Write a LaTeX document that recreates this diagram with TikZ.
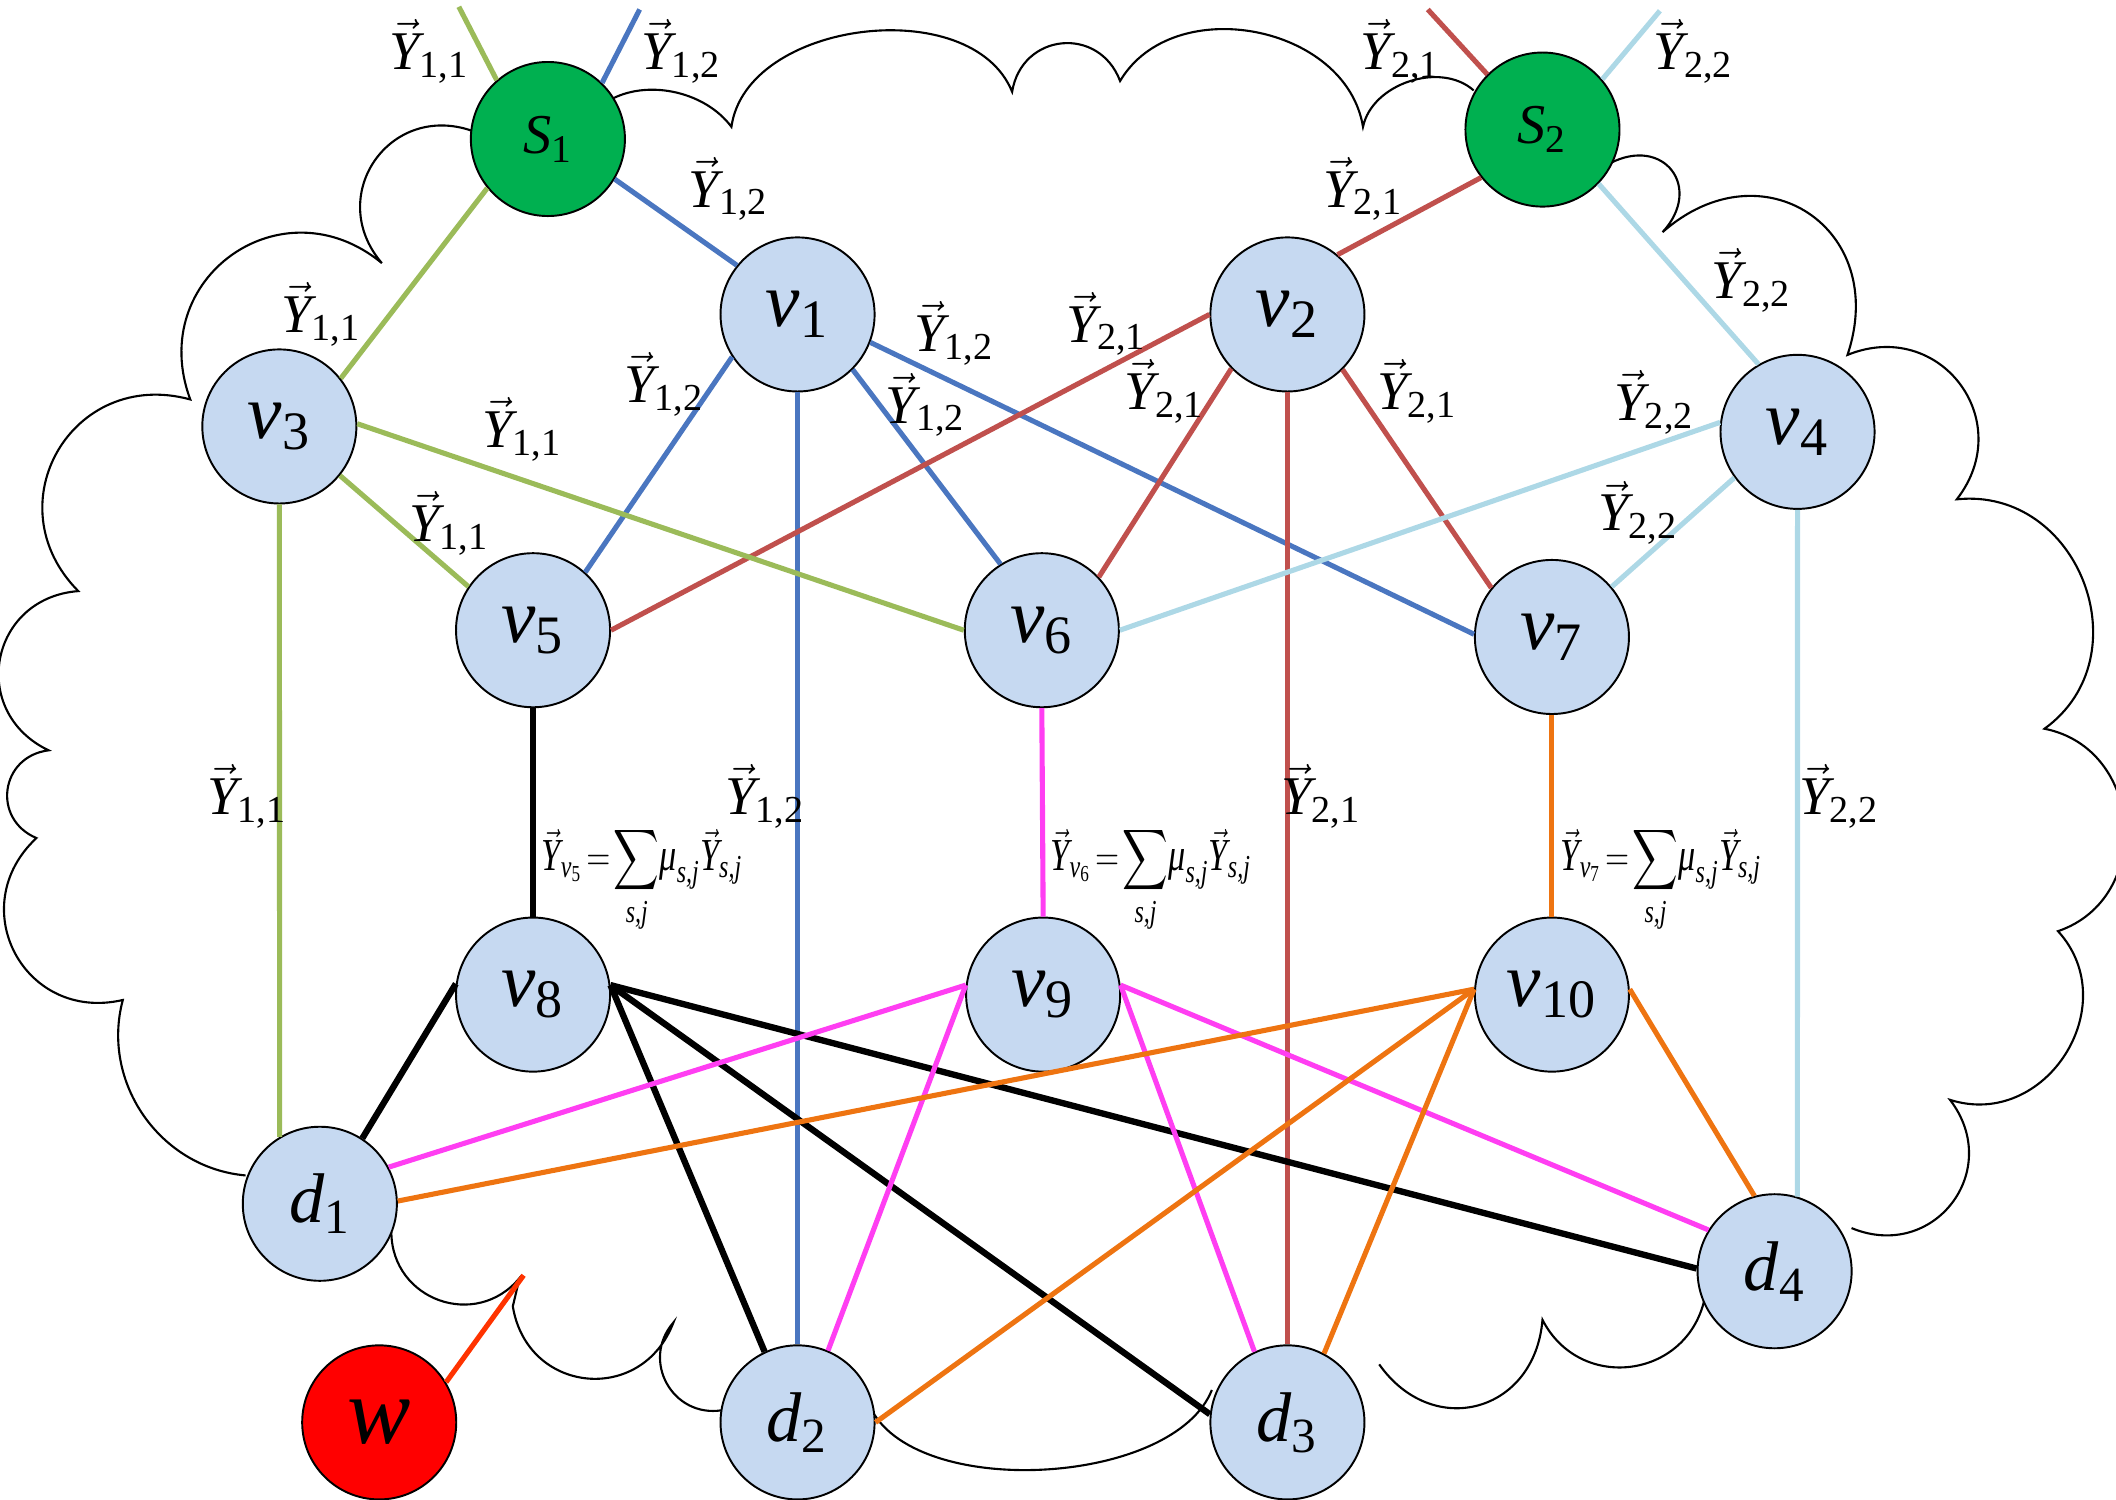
\documentclass[tikz,border=0pt]{standalone}
\usepackage{amsmath}
\usepackage{fontspec}
\setmainfont{Liberation Serif}
\usetikzlibrary{calc}
\definecolor{nfill}{HTML}{C6D9F1}
\definecolor{sgreen}{HTML}{00B050}
\definecolor{wred}{HTML}{FF0000}
\definecolor{cgreen}{HTML}{9BBB59}
\definecolor{cblue}{HTML}{4A76C0}
\definecolor{cred}{HTML}{C0504D}
\definecolor{clblue}{HTML}{ADD8E6}
\definecolor{cmag}{HTML}{FF3EF2}
\definecolor{corange}{HTML}{EE7411}
\definecolor{cwline}{HTML}{FF3300}
\newcommand\lb[4]{.. controls ($(#1)!#3!#4:(#2)$) and ($(#2)!#3!-#4:(#1)$) .. (#2)}
\newcommand\Yl[1]{$\vec{\textit{Y}}_{\text{#1}}$}
\newcommand\Nd[2]{$\textit{#1}_{\text{#2}}$}
\newcommand\Fm[1]{\scalebox{0.75}[1]{$\vec{\textit{Y}}_{\textit{v}_{\text{#1}}}\!=\!\displaystyle\sum_{\textit{s,j}}\!\textit{μ}_{\textit{s,j}}\vec{\textit{Y}}_{\textit{s,j}}$}}
\begin{document}
\begin{tikzpicture}[x=0.013495cm,y=-0.013495cm,
  base/.style={circle,draw=black,line width=0.55pt,minimum size=1.54cm,inner sep=0pt},
  vn/.style={base,fill=nfill,font=\fontsize{22}{24}\selectfont},
  dn/.style={base,fill=nfill,font=\fontsize{20}{24}\selectfont},
  sn/.style={base,fill=sgreen,font=\fontsize{16}{18}\selectfont},
  wn/.style={base,fill=wred,font=\fontsize{27}{30}\selectfont},
  lab/.style={inner sep=0pt,font=\fontsize{15.5}{18}\selectfont},
  frm/.style={inner sep=0pt,font=\fontsize{13}{15}\selectfont,anchor=west},
  ed/.style={line width=1.45pt},
  gE/.style={ed,draw=cgreen},
  bE/.style={ed,draw=cblue},
  rE/.style={ed,draw=cred},
  lE/.style={ed,draw=clblue},
  mE/.style={ed,draw=cmag},
  oE/.style={ed,draw=corange},
  kE/.style={line width=1.8pt,draw=black},
  cloud/.style={draw=black,line width=0.6pt}]
\useasboundingbox (0,0) rectangle (1568,1111.5);

% cloud outline
\draw[cloud] (454,73) \lb{454,73}{542,94}{0.35}{40}
  \lb{542,94}{750,68}{0.38}{75}
  \lb{750,68}{830,60}{0.55}{75}
  \lb{830,60}{1010,94}{0.42}{70}
  \lb{1010,94}{1092,67}{0.38}{60}
  (1193,121) \lb{1193,121}{1232,172}{0.7}{80}
  \lb{1232,172}{1369,263}{0.6}{75}
  \lb{1369,263}{1450,370}{0.55}{75}
  \lb{1450,370}{1515,540}{0.5}{75}
  \lb{1515,540}{1525,690}{0.5}{75}
  \lb{1525,690}{1445,815}{0.5}{75}
  \lb{1445,815}{1372,910}{0.55}{75}
  (1263,963) \lb{1263,963}{1143,978}{0.5}{70}
  \lb{1143,978}{1022,1011}{0.55}{70}
  (898,1030) \lb{898,1030}{646,1045}{0.3}{65}
  (535,1045) \lb{535,1045}{499,980}{0.5}{70}
  \lb{499,980}{380,968}{0.55}{75}
  -- (385,947) \lb{385,947}{290,913}{0.5}{70}
  (182,871) \lb{182,871}{91,741}{0.4}{50}
  \lb{91,741}{27,621}{0.55}{75}
  \lb{27,621}{36,556}{0.55}{75}
  \lb{36,556}{58,438}{0.55}{75}
  \lb{58,438}{141,296}{0.55}{75}
  \lb{141,296}{283,195}{0.55}{75}
  \lb{283,195}{350,97}{0.55}{75};

% nodes
\node[sn] (S1) at (406,103) {\Nd{S}{1}};
\node[sn] (S2) at (1143,96) {\Nd{S}{2}};
\node[vn] (v1) at (591,233) {\Nd{v}{1}};
\node[vn] (v2) at (954,233) {\Nd{v}{2}};
\node[vn] (v3) at (207,316) {\Nd{v}{3}};
\node[vn] (v4) at (1332,320) {\Nd{v}{4}};
\node[vn] (v5) at (395,467) {\Nd{v}{5}};
\node[vn] (v6) at (772,467) {\Nd{v}{6}};
\node[vn] (v7) at (1150,472) {\Nd{v}{7}};
\node[vn] (v8) at (395,737) {\Nd{v}{8}};
\node[vn] (v9) at (773,737) {\Nd{v}{9}};
\node[vn] (v10) at (1150,737) {\Nd{v}{10}};
\node[dn] (d1) at (237,892) {\Nd{d}{1}};
\node[dn] (d2) at (591,1054) {\Nd{d}{2}};
\node[dn] (d3) at (954,1054) {\Nd{d}{3}};
\node[dn] (d4) at (1315,942) {\Nd{d}{4}};
\node[wn] (w) at (281,1054) {\textit{w}};

% free ends of stubs
\coordinate (t1) at (340,5);
\coordinate (t2) at (474,7);
\coordinate (t3) at (1058,7);
\coordinate (t4) at (1230,8);
\coordinate (t5) at (388,945);

% edges
\draw[gE] (S1.131) -- (t1);
\draw[bE] (S1.46) -- (t2);
\draw[rE] (S2.135) -- (t3);
\draw[lE] (S2.40) -- (t4);
\draw[line width=1.45pt,draw=cwline] (w.31) -- (t5);

\draw[gE] (S1.219) -- (v3.38);
\draw[bE] (S1.-31) -- (v1.141);
\draw[rE] (S2.218) -- (v2.50);
\draw[lE] (S2.-44) -- (v4.120);

\draw[bE] (v1.213) -- (v5.48);
\draw[bE] (v1.-45) -- (v6.122);
\draw[bE] (v1.-21) -- (v7.178);
\draw[bE] (v1.south) -- (d2.north);

\draw[rE] (v2.180) -- (v5.0);
\draw[rE] (v2.224) -- (v6.43);
\draw[rE] (v2.-45) -- (v7.141);
\draw[rE] (v2.south) -- (d3.north);

\draw[gE] (v3.-39) -- (v5.146);
\draw[gE] (v3.2) -- (v6.180);
\draw[gE] (v3.south) -- (d1.121);

\draw[lE] (v4.173) -- (v6.0);
\draw[lE] (v4.216) -- (v7.40);
\draw[lE] (v4.south) -- (d4.73);

\draw[kE] (v5.south) -- (v8.north);
\draw[mE] (v6.south) -- (v9.north);
\draw[oE] (v7.south) -- (v10.north);

\draw[kE] (v8.172) -- (d1.57);
\draw[kE] (v8.7) -- (d2.115);
\draw[kE] (v8.7) -- (d3.174);
\draw[kE] (v8.7) -- (d4.178);

\draw[mE] (v9.173) -- (d1.28);
\draw[mE] (v9.173) -- (d2.67);
\draw[mE] (v9.7) -- (d3.115);
\draw[mE] (v9.7) -- (d4.148);

\draw[oE] (v10.176) -- (d1.2);
\draw[oE] (v10.176) -- (d2.0);
\draw[oE] (v10.176) -- (d3.62);
\draw[oE] (v10.4) -- (d4.105);

% labels
\node[lab] (l1) at (318,38) {\Yl{1,1}};
\node[lab] (l2) at (505,38) {\Yl{1,2}};
\node[lab] (l3) at (540,140) {\Yl{1,2}};
\node[lab] (l4) at (238,233) {\Yl{1,1}};
\node[lab] (l5) at (387,318) {\Yl{1,1}};
\node[lab] (l6) at (333,388) {\Yl{1,1}};
\node[lab] (l7) at (492,285) {\Yl{1,2}};
\node[lab] (l8) at (707,247) {\Yl{1,2}};
\node[lab] (l9) at (686,300) {\Yl{1,2}};
\node[lab] (l10) at (820,240) {\Yl{2,1}};
\node[lab] (l11) at (863,290) {\Yl{2,1}};
\node[lab] (l12) at (1050,290) {\Yl{2,1}};
\node[lab] (l13) at (1038,38) {\Yl{2,1}};
\node[lab] (l14) at (1255,38) {\Yl{2,2}};
\node[lab] (l15) at (1010,140) {\Yl{2,1}};
\node[lab] (l16) at (1298,208) {\Yl{2,2}};
\node[lab] (l17) at (1226,298) {\Yl{2,2}};
\node[lab] (l18) at (1214,380) {\Yl{2,2}};
\node[lab] (l19) at (183,590) {\Yl{1,1}};
\node[lab] (l20) at (567,590) {\Yl{1,2}};
\node[lab] (l21) at (979,590) {\Yl{2,1}};
\node[lab] (l22) at (1363,590) {\Yl{2,2}};

\node[frm] (f1) at (401,652) {\Fm{5}};
\node[frm] (f2) at (778,652) {\Fm{6}};
\node[frm] (f3) at (1156,652) {\Fm{7}};
\end{tikzpicture}
\end{document}
